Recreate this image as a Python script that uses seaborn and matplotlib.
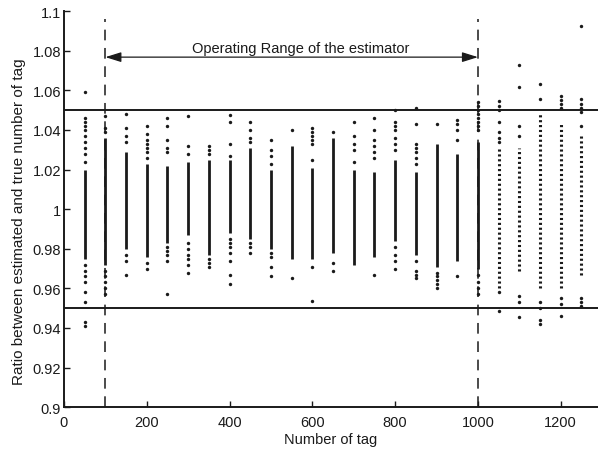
import matplotlib
matplotlib.use("Agg")
import matplotlib.pyplot as plt
import seaborn as sns
import pandas as pd

# number of tags simulated (one column of estimates per value)
tags = [50, 100, 150, 200, 250, 300, 350, 400, 450, 500, 550, 600, 650,
        700, 750, 800, 850, 900, 950, 1000, 1050, 1100, 1150, 1200, 1250]

# dense part of each column (where the dots merge into a bar)
core_low = [0.975, 0.972, 0.980, 0.976, 0.983, 0.987, 0.977, 0.988, 0.985,
            0.980, 0.975, 0.975, 0.978, 0.972, 0.976, 0.984, 0.977, 0.971,
            0.974, 0.970, 0.960, 0.969, 0.960, 0.960, 0.967]
core_high = [1.020, 1.036, 1.029, 1.023, 1.022, 1.024, 1.025, 1.025, 1.031,
             1.020, 1.032, 1.021, 1.036, 1.020, 1.019, 1.025, 1.019, 1.033,
             1.028, 1.034, 1.031, 1.031, 1.049, 1.043, 1.037]

# separate dots outside the dense part
loose = [
    [1.059, 1.046, 1.044, 1.042, 1.040, 1.037, 1.034, 1.031, 1.028, 1.024,
     0.972, 0.969, 0.966, 0.963, 0.958, 0.953, 0.943, 0.941],
    [1.047, 1.041, 1.039, 0.969, 0.966, 0.963, 0.960, 0.957],
    [1.048, 1.041, 1.037, 1.034, 0.977, 0.974, 0.967],
    [1.042, 1.038, 1.035, 1.033, 1.031, 1.029, 1.026, 0.973, 0.970],
    [1.046, 1.042, 1.035, 1.031, 1.029, 0.981, 0.979, 0.977, 0.974, 0.957],
    [1.047, 1.032, 1.028, 0.983, 0.980, 0.977, 0.975, 0.972, 0.968],
    [1.032, 1.030, 1.028, 0.975, 0.973, 0.971],
    [1.0475, 1.044, 1.033, 1.027, 0.985, 0.983, 0.981, 0.978, 0.974, 0.967, 0.962],
    [1.044, 1.040, 1.036, 1.034, 0.983, 0.981, 0.978],
    [1.035, 1.030, 1.027, 1.023, 0.978, 0.976, 0.971, 0.966],
    [1.040, 0.965],
    [1.041, 1.039, 1.037, 1.035, 1.033, 1.025, 0.971, 0.9535],
    [1.039, 0.973, 0.969],
    [1.044, 1.037, 1.033, 1.030, 1.024],
    [1.046, 1.040, 1.035, 1.032, 1.029, 1.026, 0.967],
    [1.050, 1.044, 1.042, 1.040, 1.036, 1.033, 1.030, 0.981, 0.977, 0.974, 0.970],
    [1.051, 1.043, 1.033, 1.031, 1.029, 1.026, 1.023, 0.974, 0.969, 0.967, 0.965],
    [1.043, 0.968, 0.966, 0.964, 0.962, 0.960],
    [1.045, 1.043, 1.040, 1.035, 0.966],
    [1.054, 1.052, 1.050, 1.048, 1.046, 1.044, 1.042, 1.040, 0.967, 0.963, 0.960, 0.957],
    [1.0545, 1.052, 1.050, 1.044, 1.039, 1.036, 1.034, 0.958, 0.9485],
    [1.073, 1.0616, 1.042, 1.037, 0.956, 0.953, 0.9455],
    [1.063, 1.0556, 0.953, 0.950, 0.944, 0.942],
    [1.057, 1.055, 1.053, 1.051, 0.955, 0.952, 0.946],
    [1.0924, 1.0556, 1.053, 1.051, 1.049, 1.042, 0.955, 0.953, 0.951],
]

bounds = [0.95, 1.05]
op_range = [100, 1000]

rows = []
for t, ys in zip(tags, loose):
    for y in ys:
        rows.append((t, y))
df = pd.DataFrame(rows, columns=["tags", "ratio"])

sns.set_theme(style="ticks")
plt.rcParams["font.family"] = ["Liberation Sans", "DejaVu Sans"]
plt.rcParams["xtick.direction"] = "in"
plt.rcParams["ytick.direction"] = "in"

fig = plt.figure(figsize=(5.98, 4.52), dpi=100)
ax = fig.add_axes([0.107, 0.097, 0.893, 0.876])

ink = "#1a1a1a"

# dense bars
for t, lo, hi in zip(tags, core_low, core_high):
    if t <= 1000:
        ax.vlines(t, lo, hi, color=ink, lw=2.0)
    else:
        ax.vlines(t, lo, hi, color=ink, lw=2.2, linestyles=(0, (0.7, 0.9)))

sns.scatterplot(data=df, x="tags", y="ratio", color=ink, s=6,
                linewidth=0, ax=ax, legend=False)

for b in bounds:
    ax.axhline(b, color=ink, lw=1.4)
for r in op_range:
    ax.plot([r, r], [0.9, 1.096], color=ink, lw=1.1, dashes=(7, 5))

ax.annotate("", xy=(op_range[0], 1.0768), xytext=(op_range[1], 1.0768),
            arrowprops=dict(arrowstyle="<|-|>,head_length=0.8,head_width=0.25",
                            color=ink, lw=0.9, shrinkA=0, shrinkB=0))
ax.text(572, 1.0815, "Operating Range of the estimator", ha="center",
        va="center", fontsize=10.5, color=ink)

ax.set_xlim(0, 1290)
ax.set_ylim(0.9, 1.1)
ax.set_xticks([0, 200, 400, 600, 800, 1000, 1200])
ax.set_yticks([0.9, 0.92, 0.94, 0.96, 0.98, 1.0, 1.02, 1.04, 1.06, 1.08, 1.1])
ax.set_yticklabels(["0.9", "0.92", "0.94", "0.96", "0.98", "1", "1.02",
                    "1.04", "1.06", "1.08", "1.1"])
ax.tick_params(labelsize=10.5, colors=ink, length=4, width=1, pad=2)
ax.tick_params(axis="x", pad=6)
ax.set_xlabel("Number of tag", fontsize=10.5, color=ink)
ax.set_ylabel("Ratio between estimated and true number of tag", fontsize=11,
              color=ink)
ax.xaxis.set_label_coords(0.5, -0.063)
ax.yaxis.set_label_coords(-0.072, 0.472)
sns.despine(ax=ax)
for s in ["left", "bottom"]:
    ax.spines[s].set_color(ink)
    ax.spines[s].set_linewidth(1.4)

fig.savefig("out.png", dpi=100)
